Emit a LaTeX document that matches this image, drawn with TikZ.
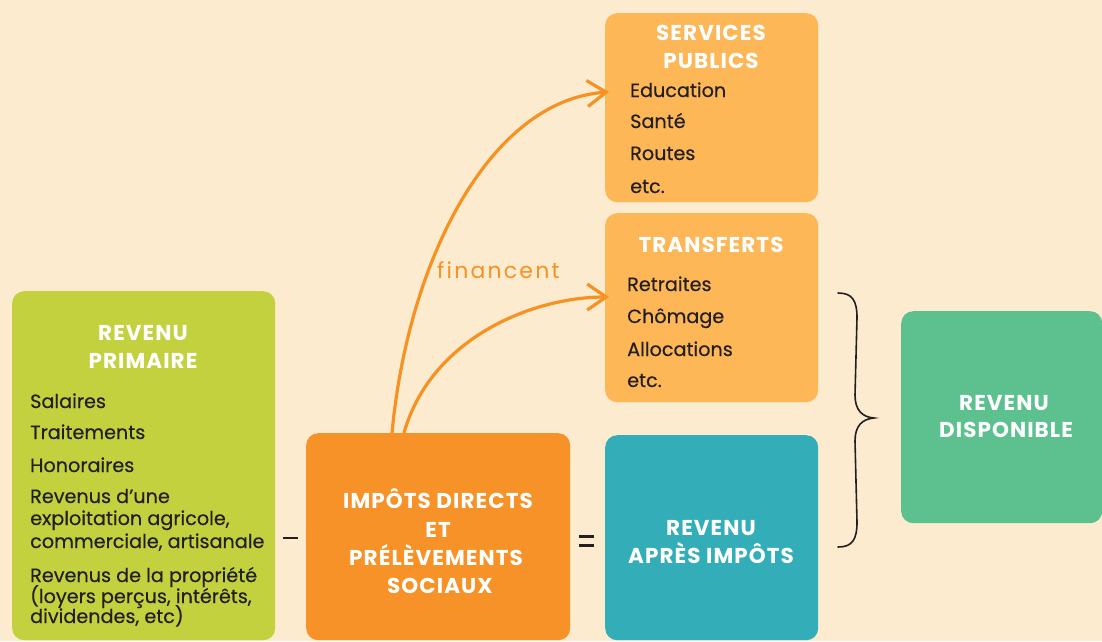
\documentclass[tikz,border=0pt]{standalone}
\usepackage{fontspec}
\setmainfont{Poppins}
\newfontfamily\bodyfont{Poppins}[FakeBold=0.4]
\newfontfamily\headfont{Poppins}[LetterSpace=5]
\newfontfamily\handfont{Poppins}[LetterSpace=10]
\usetikzlibrary{arrows.meta,calc}
\definecolor{bgc}{RGB}{253,235,208}
\definecolor{limec}{RGB}{195,209,63}
\definecolor{orgc}{RGB}{246,146,39}
\definecolor{lorgc}{RGB}{253,183,87}
\definecolor{tealc}{RGB}{51,174,184}
\definecolor{greenc}{RGB}{92,193,143}
\definecolor{arrc}{RGB}{246,146,33}
\definecolor{txtc}{RGB}{35,31,32}
\tikzset{
  box/.style={draw=none, rounded corners=12pt, inner sep=0pt, anchor=north west},
  head/.style={text=white, font=\headfont\bfseries\fontsize{21.5}{24}\selectfont, anchor=base, inner sep=0pt},
  item/.style={text=txtc, font=\bodyfont\fontsize{19.2}{21}\selectfont, anchor=base west, inner sep=0pt},
  flow/.style={draw=arrc, line width=3.2pt, -{Straight Barb[length=19pt,width=26pt,line width=3.2pt]}},
  sign/.style={draw=txtc, line width=2.2pt},
}
\begin{document}
\begin{tikzpicture}[x=1pt,y=-1pt]
\useasboundingbox (0,0) rectangle (1102,641);
\fill[bgc] (0,0) rectangle (1102,641);

% boxes
\node[box, fill=limec, minimum width=263pt, minimum height=349pt] (prim) at (12,291) {};
\node[box, fill=orgc, minimum width=264pt, minimum height=207pt] (imp) at (306,433) {};
\node[box, fill=tealc, minimum width=213pt, minimum height=205pt] (apres) at (605,435) {};
\node[box, fill=lorgc, minimum width=213pt, minimum height=189pt] (serv) at (605,13) {};
\node[box, fill=lorgc, minimum width=213pt, minimum height=189pt] (trans) at (605,213) {};
\node[box, fill=greenc, minimum width=201pt, minimum height=212pt] (disp) at (901,311) {};

% headings
\node[head] (h1) at (143,340) {REVENU};
\node[head] (h2) at (143,368) {PRIMAIRE};
\node[head] (h3) at (438,508) {IMPÔTS DIRECTS};
\node[head] (h4) at (438,537) {ET};
\node[head] (h5) at (436,565) {PRÉLÈVEMENTS};
\node[head] (h6) at (440,593) {SOCIAUX};
\node[head] (h7) at (711,535) {REVENU};
\node[head] (h8) at (711,563) {APRÈS IMPÔTS};
\node[head] (h9) at (711,40) {SERVICES};
\node[head] (h10) at (711,68) {PUBLICS};
\node[head] (h11) at (711,252) {TRANSFERTS};
\node[head] (h12) at (1004,410) {REVENU};
\node[head] (h13) at (1006,437) {DISPONIBLE};

% revenu primaire items
\node[item] (p1) at (30,408) {Salaires};
\node[item] (p2) at (30,439) {Traitements};
\node[item] (p3) at (30,472) {Honoraires};
\node[item] (p4) at (30,503) {Revenus d’une};
\node[item] (p5) at (30,525) {exploitation agricole,};
\node[item] (p6) at (30,548) {commerciale, artisanale};
\node[item] (p7) at (30,582) {Revenus de la propriété};
\node[item] (p8) at (30,603) {(loyers perçus, intérêts,};
\node[item] (p9) at (30,623) {dividendes, etc)};

% services publics items
\node[item] (s1) at (630,97) {Education};
\node[item] (s2) at (630,128) {Santé};
\node[item] (s3) at (630,160) {Routes};
\node[item] (s4) at (630,193) {etc.};

% transferts items
\node[item] (t1) at (627,291) {Retraites};
\node[item] (t2) at (627,323) {Chômage};
\node[item] (t3) at (627,356) {Allocations};
\node[item] (t4) at (627,387) {etc.};

% signs
\coordinate (m1) at (283,538);
\coordinate (m2) at (298,538);
\draw[sign] (m1) -- (m2);
\coordinate (e1) at (579,536.5);
\coordinate (e2) at (594,536.5);
\coordinate (e3) at (579,545.5);
\coordinate (e4) at (594,545.5);
\draw[sign] (e1) -- (e2) (e3) -- (e4);

% arrows
\draw[flow] ($(imp.north west)+(86,0)$) .. controls (408,260) and (490,100) .. ($(serv.north west)+(4,79)$);
\draw[flow] ($(imp.north west)+(98,0)$) .. controls (430,340) and (530,297) .. ($(trans.north west)+(4,84)$);
\node[text=arrc, font=\handfont\fontsize{22}{23}\selectfont, anchor=base west, inner sep=0pt] (fin) at (437,278) {financent};

% brace
\draw[txtc, line width=1.6pt, line cap=round]
  (838,293) .. controls (852,293) and (857,300) .. (857,318)
  -- (855,395) .. controls (855,410) and (862,417) .. (874,418)
  .. controls (862,419) and (855,426) .. (855,441)
  -- (857,522) .. controls (857,540) and (852,547) .. (838,547);
\end{tikzpicture}
\end{document}
